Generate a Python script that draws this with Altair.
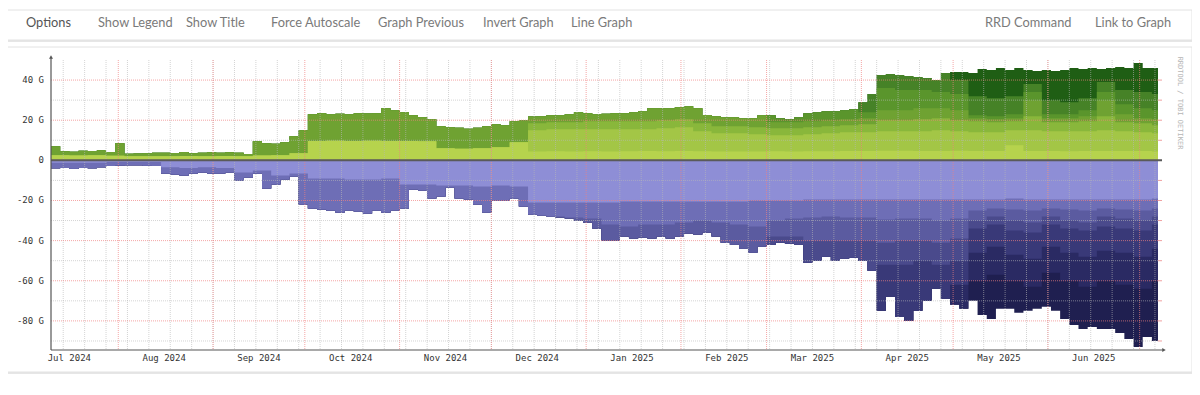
import altair as alt
import numpy as np
import pandas as pd

# ---------------- data ----------------
START = pd.Timestamp("2024-07-10")
END = pd.Timestamp("2025-07-07")

# outer envelopes, one value every 3 days (G)
pos_total = [7, 4.5, 4.3, 4.8, 4.6, 5.0, 4.2, 8.5, 3.3, 3.4,
             3.5, 3.8, 3.8, 3.6, 4.2, 3.5, 3.8, 4.0, 3.8, 4.0,
             3.8, 3.2, 9.5, 8.5, 8.3, 9.0, 12, 15, 23, 23.5,
             23, 23.2, 23, 23.5, 23.3, 23.5, 26, 25, 24, 22.5,
             21.5, 20.5, 17, 16.5, 16.2, 15.8, 16.2, 17, 18, 17.5,
             19.5, 19.8, 21.8, 22, 22.5, 22.5, 23, 24, 23.5, 23,
             23.2, 23.5, 23.5, 24, 24.5, 26, 26, 26, 26.5, 27,
             26, 22.6, 22, 21.5, 21.5, 21, 21, 22.5, 22.5, 21,
             20.5, 21.5, 23.5, 24, 24.5, 24.5, 25, 25.5, 29, 33,
             42.5, 43, 42.5, 42, 41.5, 41, 40, 43.5, 44, 44,
             43.5, 45.5, 45, 46, 45, 46, 45, 44.5, 45, 44.5,
             45, 46, 45.5, 46, 45.5, 46, 46.5, 46, 48.5, 46, 46]
neg_total = [-4, -3.8, -4.2, -3.8, -4, -3.5, -2.8, -2.6, -2.5, -2.5,
             -2.7, -2.8, -6.5, -7, -7.5, -6.5, -6, -6.5, -6.5, -6,
             -10, -8.5, -6.5, -14, -12, -9.5, -8, -22, -24, -24.5,
             -25, -26, -25, -25.5, -26.5, -25, -26, -25, -24, -14.5,
             -15, -19, -18, -13.5, -19, -19.5, -22, -26, -20, -20,
             -19, -23, -27, -27.5, -28, -28.5, -29, -30, -31, -34,
             -40, -40, -38, -39, -38.5, -39, -38, -39, -38, -36.5,
             -37, -36, -38, -41, -42, -44, -46, -43, -42, -41,
             -41.5, -42, -51, -50, -48, -50, -49, -48.5, -50, -55,
             -75, -68, -78, -80, -75, -70, -64, -69, -72, -74,
             -70, -77, -79, -74, -74, -76, -75, -74, -73, -75,
             -79, -82, -84, -83, -84, -84, -86, -89, -93, -88, -90]

# inner layer thicknesses, one value every 6 days (G); None = layer fills up to the envelope
pos_l1 = [2.6, 2.4, 2.6, 2.3, 2.0, 2.0, 2.1, 2.2, 2.1, 2.2, 2.0, 2.4, 2.5, 3.5,
          9.7, 9.8, 9.7, 9.8, 9.7, 9.6, 9.5, 6.0, 5.8, 6.0, 6.5, 9.0,
          4.4, 4.5, 4.4, 4.5, 4.4, 4.5, 4.6, 4.5, 4.6, 4.5, 4.4, 4.4, 4.4, 4.5, 4.4, 4.5, 4.5, 4.6, 4.6,
          4.8, 4.8, 4.6, 4.6, 4.8, 4.6, 4.6, 7.5, 4.6, 4.6, 4.5, 4.6, 4.6, 4.6, 4.6, 4.4]
pos_l2 = [0, 0, 0, 0, 0, 0, 0, 0, 0, 0, 0, 0, 0, 0,
          0, 0, 0, 0, 0, 0, 0, 0, 0, 0, 0, 0,
          10.6, 11, 11.1, 11, 11.1, 11, 10.9, 11.5, 11.9, 10, 9.1, 9.1, 8.6, 8, 8.1, 8.5, 9, 9.4, 9.4,
          9.7, 9.7, 9.9, 10.4, 9.7, 9.4, 9.4, 7.5, 10.4, 9.9, 10, 9.9, 10.4, 9.9, 9.4, 9.1]
pos_l3 = [0, 0, 0, 0, 0, 0, 0, 0, 0, 0, 0, 0, 0, 0,
          0, 0, 0, 0, 0, 0, 0, 0, 0, 0, 0, 0,
          3.5, 3.5, 3.5, 4, 4, 4, 4, 4, 4, 4, 3.5, 3.5, 3.5, 3.5, 3.5, 3.5, 3.5, 3.5, 4,
          5.5, 5.5, 6, 6, 5.5, 5.5, 5, 4.5, 7, 4.5, 4.5, 5, 7, 4.5, 4.5, 4]
pos_l4 = [None] * 39 + [3, 3, 3, 3, 3, 3] + \
         [5, 5, 5.5, 5, 5, 1.5, 1.5, 1.5, 8, 2, 2, 2.5, 8, 4, 2.5, 3]
pos_l5 = [0] * 39 + [None, None, None, None, None, 3] + \
         [11, 10, 9, 8, 8, 1.5, 1.5, 2, 4, 2, 2, 3, 4, 5, 5, 4.5]
pos_l6 = [0] * 44 + [None, None, None, None, None, 7] + \
         [9.5, 9, 9, 4, 7, 6, 6, 5, 7, 8, 8]

neg_l1 = [1.2, 1.2, 1.2, 0.8, 0.8, 0.8, 3.5, 3.8, 3.5, 3.8, 6, 5, 7.5, 6.5,
          9, 9, 9.5, 9.5, 9, 12, 12, 12.5, 12.5, 13, 12.5, 13,
          21, 21, 21, 21, 21, 20.5, 20.5, 20.5, 20.5, 20.5, 20.5, 20.5,
          20, 20, 20, 19.5, 19.5, 19.5, 19.5,
          19.5, 19.5, 19.5, 19.5, 19.5, 19.5, 19.5, 19, 19.5, 19.5, 19.5, 19.5, 19.5, 19.5, 19.5, 19]
neg_l2 = [None] * 26 + [6.5, 7, 7.5, 8, 11, 12.5, 11.5, 11.5, 10.5, 9.5, 10.5, 11.5, 13,
                        10, 9, 9, 8.5, 9, 9,
                        10, 9.5, 9.5, 10.5, 9.5,
                        5.5, 4.5, 5.5, 5.5, 4.5, 5, 5.5, 4.5, 5, 5.5, 5]
neg_l3 = [0] * 26 + [None] * 13 + [8, 9, 11.5, 12, 11.5, 11.5,
                                   11.5, 11, 11, 11, 10,
                                   5, 4, 5.5, 6, 4, 5.5, 6, 4, 4.5, 5, 4]
neg_l4 = [0] * 39 + [None] * 6 + [11, 12, 10, 11, 11,
                                  4, 4, 5, 5, 4, 4, 4, 5, 5, 5, 4]
neg_l5 = [0] * 45 + [None, None, None, None, 12,
                     12, 11, 12, 13, 11, 12, 13, 12, 12, 13, 12]
neg_l6 = [0] * 49 + [None, 14, 14, 13, 14, 13, 14, 15, 15, 16, 16, 16]

pos_colors = ["#b6d34d", "#a3c646", "#89b73b", "#6fa232", "#5a952c", "#468227", "#1f5e14"]
neg_colors = ["#8e8ed6", "#6e6eb6", "#5b5ba0", "#4a4a8c", "#393978", "#2a2a63", "#1f1f50"]

y_ticks = [40, 20, 0, -20, -40, -60, -80]
y_tick_labels = ["40 G", "20 G", "0", "-20 G", "-40 G", "-60 G", "-80 G"]
minor_levels = [-90, -70, -50, -30, -10, 10, 30]
major_levels = [-80, -60, -40, -20, 0, 20, 40]
month_labels = ["Jul 2024", "Aug 2024", "Sep 2024", "Oct 2024", "Nov 2024", "Dec 2024",
                "Jan 2025", "Feb 2025", "Mar 2025", "Apr 2025", "May 2025", "Jun 2025"]
month_label_dates = ["2024-07-16", "2024-08-16", "2024-09-16", "2024-10-16", "2024-11-16", "2024-12-16",
                     "2025-01-16", "2025-02-16", "2025-03-16", "2025-04-16", "2025-05-16", "2025-06-16"]
toolbar_left = ["Options", "Show Legend", "Show Title", "Force Autoscale",
                "Graph Previous", "Invert Graph", "Line Graph"]
toolbar_right = ["RRD Command", "Link to Graph"]
watermark = "RRDTOOL / TOBI OETIKER"

# ---------------- layout ----------------
W, H = 1107, 290
PL, PT = 43, 52          # padding: plot origin at page (51, 60)
toolbar_left_x = [26, 98, 186, 271, 378, 483, 571]
toolbar_right_x = [985, 1095]

n3 = len(pos_total)
dates = [START + pd.Timedelta(days=3 * k) for k in range(n3)] + [END]


def expand(vals):
    out = []
    for v in vals:
        out.extend([v, v])
    return out[:n3]


def boundaries(layers, env):
    env = np.abs(np.array(env, float))
    cum = np.zeros(n3)
    res = []
    for lay in layers:
        arr = np.array([np.inf if v is None else v for v in expand(lay)], float)
        cum = cum + arr
        res.append(np.minimum(cum, env))
    res.append(env)
    return res


pos_b = boundaries([pos_l1, pos_l2, pos_l3, pos_l4, pos_l5, pos_l6], pos_total)
neg_b = [-b for b in boundaries([neg_l1, neg_l2, neg_l3, neg_l4, neg_l5, neg_l6], neg_total)]

xs = alt.Scale(domain=[alt.DateTime(year=2024, month=7, date=10),
                       alt.DateTime(year=2025, month=7, date=7)], nice=False)
ys = alt.Scale(domain=[-94.5, 50], nice=False, zero=False)

one = pd.DataFrame({"a": [0]})


def area(vals, color):
    vals = [float(v) for v in vals]
    d = pd.DataFrame({"t": dates, "v": vals + [vals[-1]]})
    return alt.Chart(d).mark_area(interpolate="step-after", color=color, strokeWidth=0).encode(
        x=alt.X("t:T", scale=xs, axis=None),
        y=alt.Y("v:Q", scale=ys, axis=None, stack=None),
        y2=alt.datum(0),
    )


def prect(x, x2, y, y2, **kw):
    return alt.Chart(one).mark_rect(**kw).encode(
        x=alt.value(x), x2=alt.value(x2), y=alt.value(y), y2=alt.value(y2))


# page decoration: cards
cards = [
    prect(-60, 1141, -53, -52, color="#e6e6e6"),
    prect(-60, 1142, -48, -18, color="#dcdcdc", opacity=0.7),
    prect(-60, 1141, -50, -20, fill="white", stroke="#e2e2e2", strokeWidth=1),
    prect(-60, 1142, -11, 314, color="#dcdcdc", opacity=0.7),
    prect(-60, 1141, -13, 312, fill="white", stroke="#e2e2e2", strokeWidth=1),
]

texts = []
for lab, px in zip(toolbar_left + toolbar_right, toolbar_left_x + toolbar_right_x):
    texts.append(alt.Chart(one).mark_text(
        text=lab, align="left", baseline="middle", font="Lato", fontSize=12.8,
        color="#555555" if lab == "Options" else "#7a7a7a",
    ).encode(x=alt.value(px - 51), y=alt.value(23 - 60)))

# areas (outermost first)
areas = []
for b, c in zip(reversed(pos_b), reversed(pos_colors)):
    areas.append(area(b, c))
for b, c in zip(reversed(neg_b), reversed(neg_colors)):
    areas.append(area(b, c))

# grid
weeks = pd.date_range("2024-07-14", END, freq="7D")
months = pd.date_range("2024-08-01", END, freq="MS")
g_week = alt.Chart(pd.DataFrame({"t": weeks})).mark_rule(
    color="#b8b8b8", strokeDash=[1, 1], strokeWidth=1, opacity=0.6).encode(
    x=alt.X("t:T", scale=xs, axis=None))
g_month = alt.Chart(pd.DataFrame({"t": months})).mark_rule(
    color="#f08080", strokeDash=[1, 1], strokeWidth=1, opacity=0.7).encode(
    x=alt.X("t:T", scale=xs, axis=None))
g_minor = alt.Chart(pd.DataFrame({"v": minor_levels})).mark_rule(
    color="#b8b8b8", strokeDash=[1, 1], strokeWidth=1, opacity=0.6).encode(
    y=alt.Y("v:Q", scale=ys, axis=None), x=alt.value(0), x2=alt.value(W))
g_major = alt.Chart(pd.DataFrame({"v": major_levels})).mark_rule(
    color="#f08080", strokeDash=[1, 1], strokeWidth=1, opacity=0.7).encode(
    y=alt.Y("v:Q", scale=ys, axis=None), x=alt.value(0), x2=alt.value(W))
r_ticks = alt.Chart(pd.DataFrame({"v": minor_levels + major_levels})).mark_rule(
    color="#f0a0a0", strokeWidth=1).encode(
    y=alt.Y("v:Q", scale=ys, axis=None), x=alt.value(W), x2=alt.value(W + 4))

zero_line = alt.Chart(pd.DataFrame({"v": [0]})).mark_rule(color="#5a5a5a", strokeWidth=2).encode(
    y=alt.Y("v:Q", scale=ys, axis=None), x=alt.value(0), x2=alt.value(W + 4))

y_axis_line = alt.Chart(one).mark_rule(color="#555555", strokeWidth=1.2).encode(
    x=alt.value(0), y=alt.value(H), y2=alt.value(-2))
x_axis_line = alt.Chart(one).mark_rule(color="#555555", strokeWidth=1.2).encode(
    y=alt.value(H), x=alt.value(0), x2=alt.value(W + 5))
arrow_up = alt.Chart(one).mark_point(shape="triangle-up", filled=True, size=16, color="#555555",
                                     opacity=1).encode(x=alt.value(0), y=alt.value(-3))
arrow_right = alt.Chart(one).mark_point(shape="triangle-right", filled=True, size=16, color="#555555",
                                        opacity=1).encode(x=alt.value(W + 6), y=alt.value(H))

# axis labels
y_lab = alt.Chart(pd.DataFrame({"v": y_ticks, "lab": y_tick_labels})).mark_text(
    align="right", baseline="middle", font="DejaVu Sans Mono", fontSize=9, color="#333333").encode(
    y=alt.Y("v:Q", scale=ys, axis=None), x=alt.value(-7), text="lab:N")
x_lab = alt.Chart(pd.DataFrame({"t": pd.to_datetime(month_label_dates), "lab": month_labels})).mark_text(
    align="center", baseline="middle", font="DejaVu Sans Mono", fontSize=9, color="#333333").encode(
    x=alt.X("t:T", scale=xs, axis=None), y=alt.value(H + 7.5), text="lab:N")

wm = alt.Chart(one).mark_text(text=watermark, angle=90, align="center", baseline="middle",
                              font="DejaVu Sans Mono", fontSize=7, color="#b5b5b5").encode(
    x=alt.value(1180 - 51), y=alt.value(103 - 60))

chart = alt.layer(
    *cards, *texts, *areas, g_week, g_month, g_minor, g_major, r_ticks,
    zero_line, y_axis_line, x_axis_line, arrow_up, arrow_right, y_lab, x_lab, wm,
).properties(
    width=W, height=H,
    padding={"left": PL, "top": PT, "right": 1184 - PL - W, "bottom": 379 - PT - H},
    autosize=alt.AutoSizeParams(type="none"),
    background="white",
).configure_view(stroke=None)

chart.save("out.html", embed_options={"renderer": "svg", "actions": False})
